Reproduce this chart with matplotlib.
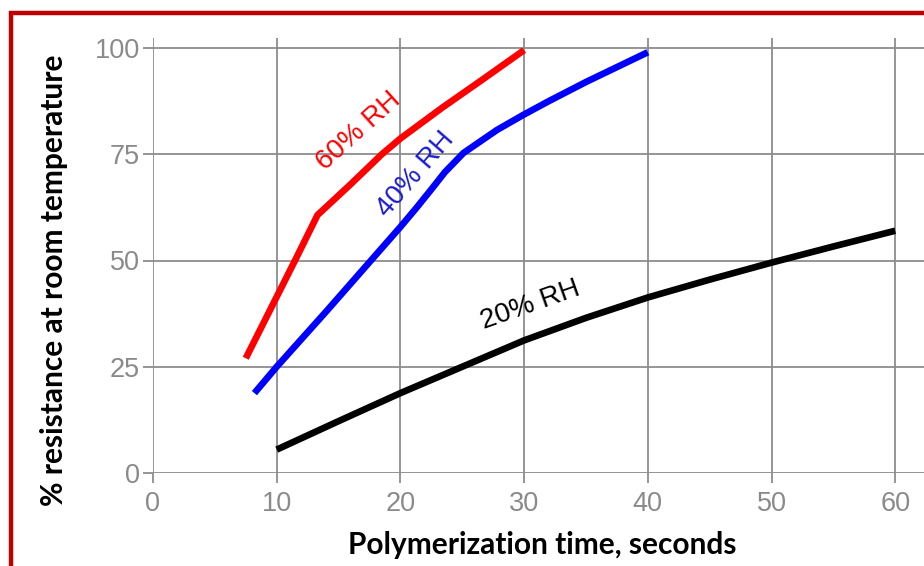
import matplotlib
matplotlib.use("Agg")
import matplotlib.pyplot as plt
from matplotlib.patches import Rectangle

# Data
rh60_x = [7.5, 11.6, 13.3, 16, 18.5, 20, 23.4, 26.7, 30]
rh60_y = [27, 50.7, 60.7, 68, 75, 78.7, 86, 92.7, 99.5]
rh40_x = [8.2, 10, 14, 20, 21.3, 22.6, 23.6, 25.1, 27.8, 29.9, 32, 35, 40]
rh40_y = [18.8, 25, 38, 57.9, 62.4, 67.1, 70.8, 75.3, 80.7, 84.2, 87.5, 92, 99]
rh20_x = [10, 15, 20, 25, 30, 35, 40, 45, 50, 55, 60]
rh20_y = [5.5, 12.2, 18.8, 25, 31.2, 36.5, 41.3, 45.5, 49.5, 53.3, 57]
x_ticks = [0, 10, 20, 30, 40, 50, 60]
y_ticks = [0, 25, 50, 75, 100]

W, H = 924, 566
fig = plt.figure(figsize=(W/100, H/100), dpi=100)
ax = fig.add_axes([153/W, 1-473/H, (W-153)/W, (473-38)/H])
ax.set_xlim(0, 771/123.7*10)
ax.set_ylim(0, 435/4.25)

grid_c = "#8c8c8c"
ax.set_xticks(x_ticks)
ax.set_yticks(y_ticks)
ax.grid(True, color=grid_c, linewidth=1.3)
ax.set_axisbelow(True)
for s in ax.spines.values():
    s.set_visible(False)
ax.tick_params(axis="both", direction="out", length=7.2, width=1.3, color=grid_c,
               labelcolor="#8a8a8a", labelsize=19.5)
ax.tick_params(axis="x", pad=6)
ax.tick_params(axis="y", pad=2)
for lab in ax.get_xticklabels() + ax.get_yticklabels():
    lab.set_fontfamily("Liberation Sans")

kw = dict(lw=4.8, solid_capstyle="butt", solid_joinstyle="round")
ax.plot(rh60_x, rh60_y, color="#ff0000", **kw)
ax.plot(rh40_x, rh40_y, color="#0000ff", **kw)
ax.plot(rh20_x, rh20_y, color="#000000", **kw)

ax.text(16.6, 80.5, "60% RH", color="#ff0000", rotation=42, ha="center", va="center",
        fontsize=20, family="Liberation Sans", rotation_mode="anchor")
ax.text(21.2, 70.2, "40% RH", color="#1a1ad0", rotation=49, ha="center", va="center",
        fontsize=20, family="Liberation Sans", rotation_mode="anchor")
ax.text(30.5, 39.6, "20% RH", color="#000000", rotation=19.5, ha="center", va="center",
        fontsize=20, family="Liberation Sans", rotation_mode="anchor")

fig.text(542/W, 1-545/H, "Polymerization time, seconds", ha="center", va="center",
         fontsize=21.5, fontweight="bold", family="Lato")
fig.text(54/W, 1-280/H, "% resistance at room temperature", ha="center", va="center",
         rotation=90, fontsize=21.5, fontweight="bold", family="Lato")

fig.patches.append(Rectangle((11/W, -0.1), 1.2, 1.1 - 13.5/H, transform=fig.transFigure,
                             fill=False, edgecolor="#c00000", linewidth=3.2, clip_on=False))

fig.savefig("out.png", dpi=100)
